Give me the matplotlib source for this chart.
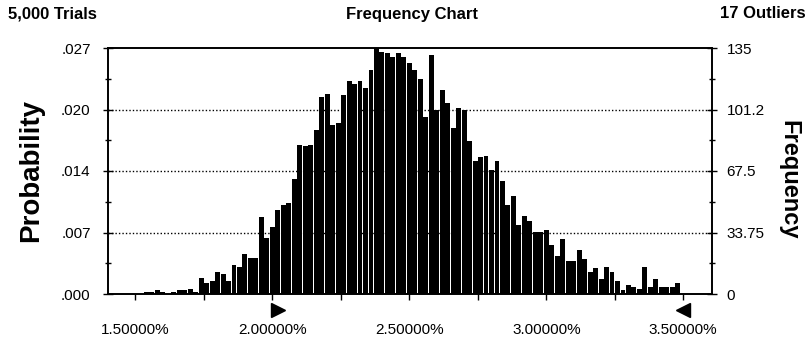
import numpy as np
import matplotlib
matplotlib.use("Agg")
import matplotlib.pyplot as plt
from matplotlib.ticker import MultipleLocator, FuncFormatter

# Crystal Ball style frequency chart (5,000 trials)
trials = 5000
outliers = 17
bin_start = 1.52   # centre of first bin, in %
bin_width = 0.02   # in %
freq = [0, 1, 1, 2, 1, 0, 1, 2, 2, 3, 1,
        9, 6, 7, 12, 11, 7, 16, 15, 22, 20, 20,
        42, 31, 37, 46, 49, 50, 63,
        82, 81, 82, 90, 108, 110, 93, 94,
        109, 117, 115, 117, 113,
        123, 135, 133, 132, 130, 132, 130, 127, 123, 118,
        97, 131, 101, 112, 105, 91, 102, 101, 84,
        73, 75, 76, 68, 73, 62,
        49, 54, 38, 43, 40, 34, 34, 35, 27, 21, 30, 18, 18, 24, 19, 12,
        14, 8, 15, 12, 7, 2, 5, 4, 3, 15, 4, 8, 4, 4, 4, 6]

freq_ticks = [0, 33.75, 67.5, 101.25, 135]
freq_labels = ["0", "33.75", "67.5", "101.2", "135"]
prob_labels = [".000", ".007", ".014", ".020", ".027"]
grabbers = [2.02, 3.50]   # certainty grabber positions

centers = bin_start + bin_width * np.arange(len(freq))

plt.rcParams['font.family'] = ['Liberation Sans', 'DejaVu Sans']
bold_fam = ['Liberation Sans', 'DejaVu Sans']

fig = plt.figure(figsize=(8.12, 3.4), dpi=100)
ax = fig.add_axes([108 / 812, 1 - 294 / 340, 604 / 812, 246 / 340])

for yv in freq_ticks[1:-1]:
    ax.axhline(yv, color='black', lw=1.0, ls=(0, (1, 1.5)), zorder=1)
ax.bar(centers, freq, width=bin_width * 0.9, color='black', edgecolor='none', zorder=2)

ax.set_xlim(1.40, 3.605)
ax.set_ylim(0, 135)

ax.xaxis.set_major_locator(MultipleLocator(0.5))
ax.xaxis.set_minor_locator(MultipleLocator(0.25))
ax.xaxis.set_major_formatter(FuncFormatter(lambda v, p: "{:.5f}%".format(v)))
ax.tick_params(axis='x', which='both', direction='out', length=4, width=1, pad=17, labelsize=11)

ax.set_yticks(freq_ticks)
ax.set_yticklabels(prob_labels)
ax.yaxis.set_minor_locator(MultipleLocator(135 / 8))
ax.tick_params(axis='y', which='major', direction='inout', length=7, width=1, pad=9, labelsize=11)
ax.tick_params(axis='y', which='minor', direction='inout', length=5, width=1)

ax2 = ax.twinx()
ax2.set_ylim(0, 135)
ax2.set_yticks(freq_ticks)
ax2.set_yticklabels(freq_labels)
ax2.yaxis.set_minor_locator(MultipleLocator(135 / 8))
ax2.tick_params(axis='y', which='major', direction='inout', length=7, width=1, pad=7, labelsize=11)
ax2.tick_params(axis='y', which='minor', direction='inout', length=5, width=1)

for a in (ax, ax2):
    for s in a.spines.values():
        s.set_linewidth(1.2)

# certainty grabbers under the axis
trans = ax.get_xaxis_transform()
ax.plot([grabbers[0]], [-0.065], marker='>', ms=10, color='black', transform=trans, clip_on=False)
ax.plot([grabbers[1]], [-0.065], marker='<', ms=10, color='black', transform=trans, clip_on=False)

ax.set_ylabel("Probability", fontsize=20, fontweight='bold', family=bold_fam, labelpad=12)
fig.text(789 / 812, 1 - 180 / 340, "Frequency", rotation=-90, ha='center', va='center',
         fontsize=17, fontweight='bold', family=bold_fam)

fig.text(8 / 812, 1 - 14 / 340, "{:,} Trials".format(trials), ha='left', va='center',
         fontsize=12, fontweight='bold', family=bold_fam)
fig.text(412 / 812, 1 - 14 / 340, "Frequency Chart", ha='center', va='center',
         fontsize=12, fontweight='bold', family=bold_fam)
fig.text(806 / 812, 1 - 14 / 340, "{} Outliers".format(outliers), ha='right', va='center',
         fontsize=12, fontweight='bold', family=bold_fam)

fig.savefig("out.png", dpi=100)
